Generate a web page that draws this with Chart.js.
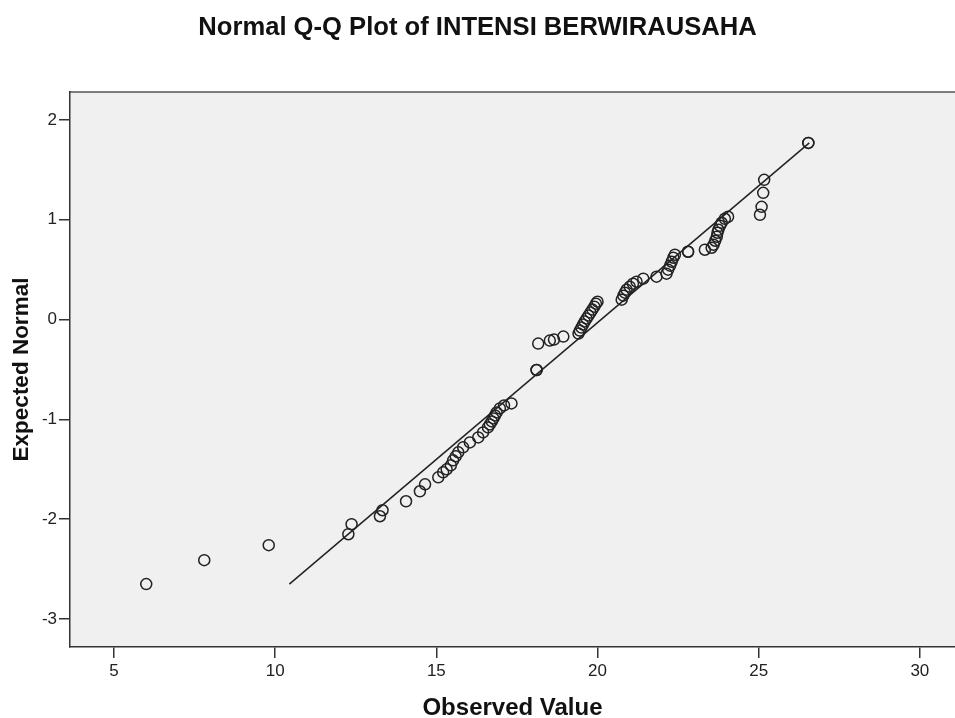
<!DOCTYPE html>
<html>
<head>
<meta charset="utf-8">
<title>Normal Q-Q Plot</title>
<script src="https://cdn.jsdelivr.net/npm/chart.js@4/dist/chart.umd.min.js"></script>
<style>
    html, body { margin: 0; padding: 0; background: #ffffff; }
    #wrap { width: 955px; height: 718px; }
</style>
</head>
<body>
<div id="wrap"><canvas id="qqChart" width="955" height="718"></canvas></div>
<script>
// values
const observedValues = [6.0, 7.8, 9.8, 12.27, 12.37, 13.25, 13.33, 14.06, 14.49, 14.65,
    15.06, 15.21, 15.32, 15.45, 15.52, 15.6, 15.68, 15.83, 16.04, 16.3,
    16.45, 16.6, 16.66, 16.72, 16.77, 16.82, 16.87, 16.97, 17.1, 17.33,
    18.11, 18.11, 18.16, 18.52, 18.65, 18.94, 19.41, 19.45, 19.5, 19.55,
    19.6, 19.66, 19.72, 19.78, 19.84, 19.9, 19.95, 20.0, 20.75, 20.8,
    20.85, 20.9, 21.0, 21.1, 21.21, 21.42, 21.83, 22.14, 22.19, 22.25,
    22.3, 22.35, 22.4, 22.81, 22.81, 23.33, 23.54, 23.6, 23.65, 23.7,
    23.72, 23.75, 23.8, 23.85, 23.95, 24.05, 25.04, 25.09, 25.14, 25.17,
    26.54, 26.54];
const expectedNormal = [-2.65, -2.41, -2.26, -2.15, -2.05, -1.97, -1.91, -1.82, -1.72, -1.65,
    -1.58, -1.53, -1.5, -1.46, -1.41, -1.37, -1.33, -1.28, -1.23, -1.18,
    -1.13, -1.08, -1.05, -1.02, -0.99, -0.96, -0.93, -0.89, -0.86, -0.84,
    -0.505, -0.505, -0.24, -0.21, -0.2, -0.17, -0.14, -0.11, -0.08, -0.05,
    -0.02, 0.01, 0.04, 0.07, 0.1, 0.13, 0.16, 0.18, 0.2, 0.24,
    0.27, 0.3, 0.33, 0.36, 0.38, 0.41, 0.43, 0.46, 0.5, 0.54,
    0.58, 0.62, 0.65, 0.68, 0.68, 0.7, 0.72, 0.75, 0.79, 0.83,
    0.87, 0.9, 0.94, 0.97, 1.01, 1.03, 1.05, 1.13, 1.27, 1.4,
    1.77, 1.77];

// reference line end points
const lineX = [10.44, 26.57];
const lineY = [-2.65, 1.77];

const xTicks = [5, 10, 15, 20, 25, 30];
const yTicks = [2, 1, 0, -1, -2, -3];

const qqPoints = observedValues.map((v, i) => ({ x: v, y: expectedNormal[i] }));
const linePoints = lineX.map((v, i) => ({ x: v, y: lineY[i] }));

// grey plot background and top border
const plotFrame = {
    id: 'plotFrame',
    beforeDraw(chart) {
        const { ctx, chartArea } = chart;
        ctx.save();
        ctx.fillStyle = '#f0f0f0';
        ctx.fillRect(chartArea.left, chartArea.top, chartArea.right - chartArea.left, chartArea.bottom - chartArea.top);
        ctx.strokeStyle = '#555555';
        ctx.lineWidth = 1.5;
        ctx.beginPath();
        ctx.moveTo(chartArea.left, chartArea.top);
        ctx.lineTo(chartArea.right, chartArea.top);
        ctx.stroke();
        ctx.restore();
    }
};

const ctx = document.getElementById('qqChart').getContext('2d');
new Chart(ctx, {
    type: 'scatter',
    data: {
        datasets: [{
            label: 'Observed',
            data: qqPoints,
            pointStyle: 'circle',
            pointRadius: 5.5,
            pointBorderWidth: 1.5,
            borderColor: '#222222',
            backgroundColor: 'rgba(0,0,0,0)',
            order: 1
        }, {
            type: 'line',
            label: 'Normal line',
            data: linePoints,
            borderColor: '#222222',
            borderWidth: 1.5,
            pointRadius: 0,
            fill: false,
            order: 2
        }]
    },
    options: {
        responsive: false,
        animation: false,
        layout: { padding: 0, autoPadding: false },
        plugins: {
            legend: { display: false },
            tooltip: { enabled: false },
            title: {
                display: true,
                text: 'Normal Q-Q Plot of INTENSI BERWIRAUSAHA',
                color: '#111111',
                font: { family: 'Liberation Sans', size: 25.6, weight: 'bold', lineHeight: 1.2 },
                padding: { top: 13, bottom: 48.3 }
            }
        },
        scales: {
            x: {
                type: 'linear',
                min: 3.635,
                max: 31.09,
                afterBuildTicks: axis => { axis.ticks = xTicks.map(v => ({ value: v })); },
                afterFit: axis => {
                    axis.height = 71;
                    axis.paddingLeft = 0;
                    axis.paddingRight = 0;
                },
                grid: { drawOnChartArea: false, drawTicks: true, tickLength: 11, color: '#333333', lineWidth: 1.5 },
                border: { display: true, color: '#333333', width: 1.5 },
                ticks: {
                    color: '#222222',
                    padding: 3,
                    font: { family: 'Liberation Sans', size: 17 }
                },
                title: {
                    display: true,
                    text: 'Observed Value',
                    color: '#111111',
                    font: { family: 'Liberation Sans', size: 24, weight: 'bold', lineHeight: 1 },
                    padding: { top: 0, bottom: -2 }
                }
            },
            y: {
                type: 'linear',
                min: -3.28,
                max: 2.28,
                afterBuildTicks: axis => { axis.ticks = yTicks.map(v => ({ value: v })); },
                afterFit: axis => {
                    axis.width = 70;
                    axis.paddingTop = 0;
                    axis.paddingBottom = 0;
                },
                grid: { drawOnChartArea: false, drawTicks: true, tickLength: 11, color: '#333333', lineWidth: 1.5 },
                border: { display: true, color: '#333333', width: 1.5 },
                ticks: {
                    color: '#222222',
                    padding: 2,
                    font: { family: 'Liberation Sans', size: 17 }
                },
                title: {
                    display: true,
                    text: 'Expected Normal',
                    color: '#111111',
                    font: { family: 'Liberation Sans', size: 22.5, weight: 'bold', lineHeight: 1 },
                    padding: { top: 11, bottom: 0 }
                }
            }
        }
    },
    plugins: [plotFrame]
});
</script>
</body>
</html>
